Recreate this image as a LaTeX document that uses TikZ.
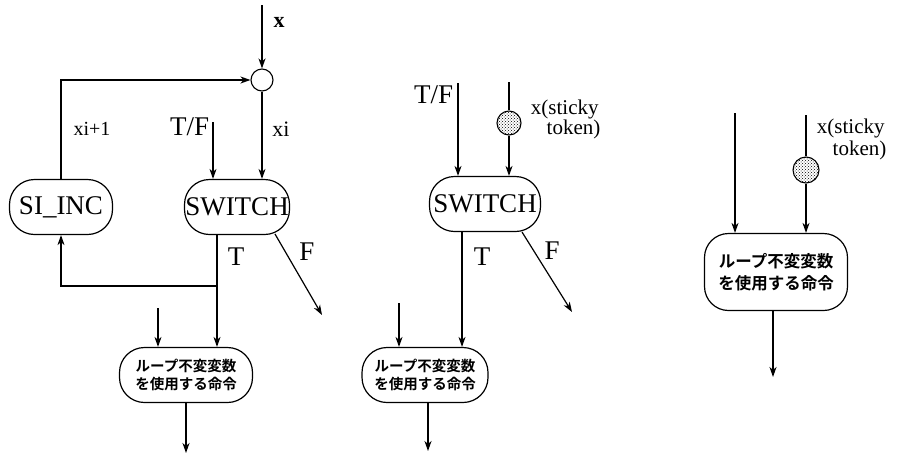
\documentclass[tikz,border=0pt]{standalone}
\usepackage{fontspec}
\setmainfont{Liberation Serif}
\newfontfamily\jp{Noto Sans CJK JP}[BoldFont={* Bold}]
\usetikzlibrary{arrows.meta,patterns}
\tikzset{
  arr/.style={-{Stealth[length=10pt,width=7pt,inset=3pt]}},
  box/.style={draw,line width=1.2pt,rounded corners=25pt,inner sep=0pt,minimum height=55pt},
  big/.style={font=\fontsize{27}{30}\selectfont},
  mid/.style={font=\fontsize{21}{21}\selectfont,align=left},
  small/.style={font=\fontsize{20}{22}\selectfont},
  jpa/.style={font=\jp\bfseries\fontsize{14.5}{18}\selectfont,align=center},
  jpb/.style={font=\jp\bfseries\fontsize{16.5}{22}\selectfont,align=center},
  tok/.style={circle,draw,line width=1.1pt,minimum size=24pt,inner sep=0pt,fill=black!15,pattern=crosshatch dots,pattern color=black},
}
\begin{document}
\begin{tikzpicture}[x=1pt,y=-1pt,line width=1.2pt]
\useasboundingbox (0,0) rectangle (901,453);
% ---------- left diagram ----------
\node[circle,draw,line width=1.1pt,minimum size=22pt,inner sep=0pt] (c1) at (262,80) {};
\coordinate (xin) at (262,5);
\node[small,font=\fontsize{22}{22}\selectfont\bfseries] (xl) at (279,22) {x};
\draw[arr] (xin) -- (c1.north);
\node[box,big,minimum width=103pt] (siinc) at (61,207) {SI\_INC};
\node[box,big,minimum width=105pt] (sw1) at (237,207) {SWITCH};
\draw[arr] (siinc.north) |- (c1.west);
\node[small] (xi1) at (92,129) {xi+1};
\draw[arr] (c1.south) -- (c1.south |- sw1.north);
\node[small,font=\fontsize{22}{22}\selectfont] (xil) at (281,129) {xi};
\coordinate (tf1) at (213,122);
\draw[arr] (tf1) -- (tf1 |- sw1.north);
\node[big,anchor=east] (tfl1) at (213,127) {T/F};
\node[box,jpa,minimum width=133pt] (liu1) at (186,375) {ループ不変変数\\を使用する命令};
\coordinate (br1) at (217,286);
\draw (sw1.south -| br1) -- (br1);
\draw[arr] (br1) -- (br1 |- liu1.north);
\draw[arr] (br1) -| (siinc.south);
\node[big] (tl1) at (236,257) {T};
\coordinate (fs1) at (275,234);
\coordinate (fe1) at (322,315);
\draw[arr] (fs1) -- (fe1);
\node[big] (fl1) at (307,252) {F};
\coordinate (in1) at (158,308);
\draw[arr] (in1) -- (in1 |- liu1.north);
\coordinate (out1) at (186,453);
\draw[arr] (liu1.south) -- (out1);
% ---------- middle diagram ----------
\node[box,big,minimum width=111pt] (sw2) at (485,204) {SWITCH};
\coordinate (tf2) at (458,83);
\draw[arr] (tf2) -- (tf2 |- sw2.north);
\node[big,anchor=east] (tfl2) at (457,95) {T/F};
\node[tok] (c2) at (509,123) {};
\coordinate (x2) at (509,82);
\draw (x2) -- (c2.north);
\draw[arr] (c2.south) -- (c2.south |- sw2.north);
\node[mid,anchor=north west] (st2) at (527,96) {x(sticky\\[-1pt]\hspace*{0.75em}token)};
\node[box,jpa,minimum width=126pt] (liu2) at (425,375) {ループ不変変数\\を使用する命令};
\coordinate (t2) at (462,232);
\draw[arr] (sw2.south -| t2) -- (t2 |- liu2.north);
\node[big] (tl2) at (482,257) {T};
\coordinate (fs2) at (522,232);
\coordinate (fe2) at (572,312);
\draw[arr] (fs2) -- (fe2);
\node[big] (fl2) at (552,251) {F};
\coordinate (in2) at (399,303);
\draw[arr] (in2) -- (in2 |- liu2.north);
\coordinate (out2) at (428,451);
\draw[arr] (liu2.south -| out2) -- (out2);
% ---------- right diagram ----------
\node[box,jpb,minimum width=143pt,minimum height=77pt,rounded corners=24pt] (liu3) at (776,272) {ループ不変変数\\を使用する命令};
\coordinate (in3) at (735,113);
\draw[arr] (in3) -- (in3 |- liu3.north);
\node[tok,minimum size=26pt] (c3) at (806,170) {};
\coordinate (x3) at (806,115);
\draw (x3) -- (c3.north);
\draw[arr] (c3.south) -- (c3.south |- liu3.north);
\node[mid,anchor=north west] (st3) at (813,115) {x(sticky\\[1pt]\hspace*{0.75em}token)};
\coordinate (out3) at (773,377);
\draw[arr] (liu3.south -| out3) -- (out3);
\end{tikzpicture}
\end{document}
